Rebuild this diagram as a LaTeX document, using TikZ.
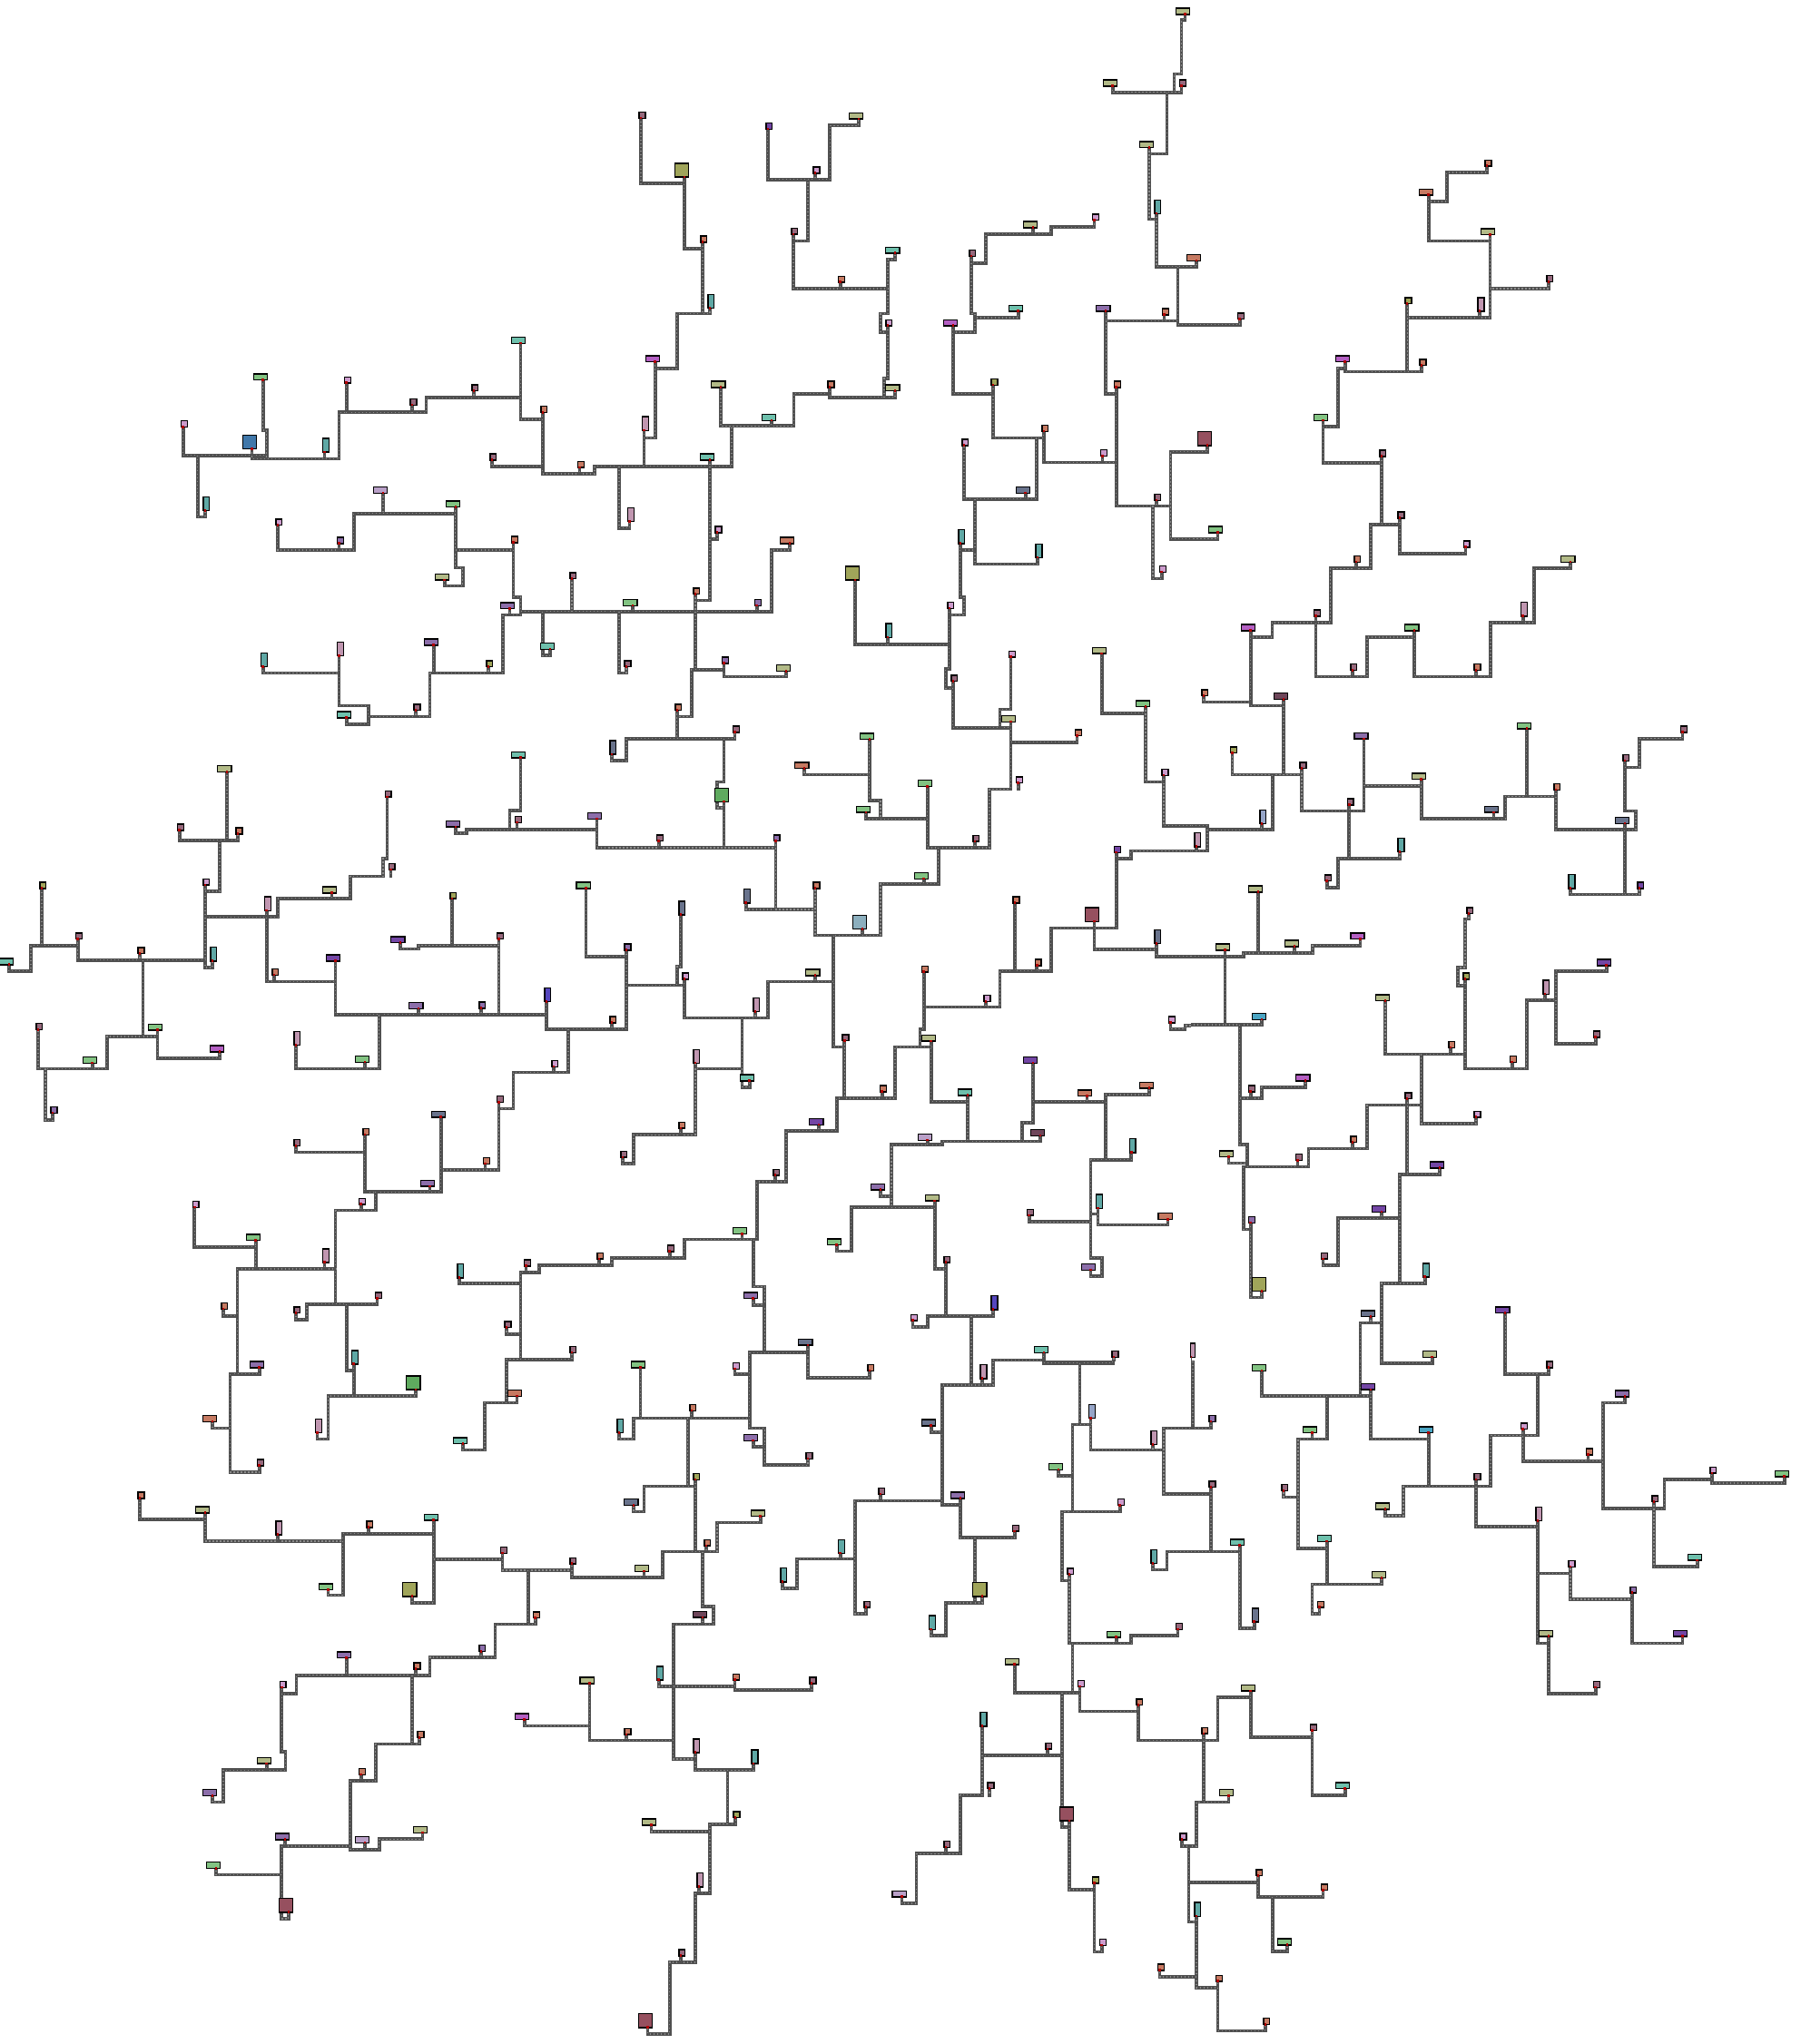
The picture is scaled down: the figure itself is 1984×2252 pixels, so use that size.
\documentclass[tikz,border=0pt]{standalone}
\usepackage{tikz}

\definecolor{trk}{RGB}{80,80,80}
\definecolor{trkin}{RGB}{140,140,140}
\definecolor{cpk}{RGB}{204,155,204}
\definecolor{cpt}{RGB}{192,150,176}
\definecolor{cmv}{RGB}{150,105,125}
\definecolor{cor}{RGB}{198,122,98}
\definecolor{col}{RGB}{178,186,135}
\definecolor{colb}{RGB}{160,165,90}
\definecolor{cgn}{RGB}{130,195,130}
\definecolor{cgnb}{RGB}{95,170,95}
\definecolor{ctl}{RGB}{95,168,165}
\definecolor{ctw}{RGB}{110,192,172}
\definecolor{cpu}{RGB}{140,110,170}
\definecolor{cpd}{RGB}{115,70,165}
\definecolor{cmg}{RGB}{180,95,195}
\definecolor{csl}{RGB}{105,115,140}
\definecolor{cbl}{RGB}{65,120,170}
\definecolor{clb}{RGB}{140,175,190}
\definecolor{ccy}{RGB}{75,165,195}
\definecolor{cmvb}{RGB}{150,80,95}
\definecolor{clp}{RGB}{185,160,200}
\definecolor{cdm}{RGB}{110,70,90}
\definecolor{cin}{RGB}{85,70,190}
\definecolor{clbt}{RGB}{150,165,200}

\tikzset{
  track/.style={draw=trk, line width=0.36mm, line join=miter, line cap=rect,
    postaction={draw=trkin, line width=0.12mm, line cap=butt, dash pattern=on 0.12mm off 0.28mm}},
  box/.style={draw=black, line width=0.4pt, inner sep=0pt, anchor=south east, xshift=0.55mm, yshift=-0.1mm},
  sq/.style={minimum width=0.68mm, minimum height=0.68mm},
  wd/.style={minimum width=1.52mm, minimum height=0.68mm},
  tl/.style={minimum width=0.68mm, minimum height=1.52mm},
  bg/.style={minimum width=1.52mm, minimum height=1.52mm},
  pin/.style={fill=red!70!black, inner sep=0pt, minimum size=0.26mm},
}

% leaf lists are name/shape/colour/x/y
\newcommand{\putpins}[1]{\foreach \n/\s/\cl/\px/\py in #1 {\coordinate (\n) at (\px,\py);}}
\newcommand{\putboxes}[1]{\foreach \n/\s/\cl/\px/\py in #1 {\node[box,\s,fill=\cl] (\n-b) at (\n) {}; \node[pin] (\n-p) at (\n) {};}}

\begin{document}
\begin{tikzpicture}[x=0.1mm, y=-0.1mm]
\fill[white] (0,0) rectangle (1984,2252);
\useasboundingbox (0,0) rectangle (1984,2252);

% ---------- top left
\def\leavesA{a1/sq/cpk/452/970, a2/wd/cgn/649/863, a3/bg/cbl/622/1020, a4/tl/ctl/506/1160,
  a5/tl/ctl/801/1027, a6/sq/cpk/855/870, a7/sq/cmv/1017/920, a8/sq/cmv/1169/888,
  a9/wd/ctw/1285/780, a10/sq/cor/1339/937, a11/sq/cmv/1214/1045, a12/sq/cor/1430/1062,
  a13/tl/cpt/1553/1185, a14/wd/clp/945/1120, a15/wd/cgn/1124/1152, a16/wd/col/1097/1318,
  a17/sq/cpk/685/1193, a18/sq/cpu/837/1235, a19/sq/cor/1267/1233, a20/wd/cpu/1258/1383,
  a21/sq/cmv/1411/1315, a22/wd/cgn/1563/1376, a23/wd/ctw/1357/1475, a24/sq/cmv/1545/1515,
  a25/sq/colb/1205/1515, a26/wd/cpu/1070/1466, a27/tl/cpt/837/1490, a28/tl/ctl/649/1515}
\begin{scope}[shift={(0,0)}, x=0.04464mm, y=-0.04847mm]
  \clip (-10,-10) rectangle (1501,1553.5);
  \putpins{\leavesA}
  \draw[track] (a1) -- (452,1035) -- (658,1035);
  \draw[track] (a2) -- (649,978) -- (658,978) -- (658,1043);
  \draw[track] (a3) -- (622,1043) -- (837,1043) -- (837,937) -- (1052,937) -- (1052,904) -- (1285,904);
  \draw[track] (488,1035) -- (488,1175) -- (506,1175) -- (a4);
  \draw[track] (a5) -- (801,1043);
  \draw[track] (a6) -- (855,937);
  \draw[track] (a7) -- (1017,937);
  \draw[track] (a8) -- (1169,904);
  \draw[track] (a9) -- (1285,953) -- (1339,953);
  \draw[track] (a10) -- (1339,1077) -- (1467,1077) -- (1467,1060) -- (1568,1060);
  \draw[track] (a11) -- (1214,1060) -- (1339,1060);
  \draw[track] (a12) -- (1430,1077);
  \draw[track] (1527,1060) -- (1527,1200) -- (1553,1200) -- (a13);
  \draw[track] (a14) -- (945,1167);
  \draw[track] (873,1167) -- (1124,1167);
  \draw[track] (a15) -- (1124,1290) -- (1142,1290) -- (1142,1332) -- (1097,1332) -- (a16);
  \draw[track] (873,1167) -- (873,1250) -- (685,1250) -- (a17);
  \draw[track] (a18) -- (837,1250);
  \draw[track] (1124,1250) -- (1267,1250);
  \draw[track] (a19) -- (1267,1357) -- (1285,1357) -- (1285,1398) -- (1241,1398) -- (1241,1530) -- (1061,1530) -- (1061,1568);
  \draw[track] (a20) -- (1258,1398);
  \draw[track] (1285,1390) -- (1568,1390);
  \draw[track] (a21) -- (1411,1390);
  \draw[track] (a22) -- (1563,1390);
  \draw[track] (1339,1390) -- (1339,1490) -- (1357,1490) -- (a23);
  \draw[track] (1527,1390) -- (1527,1530) -- (1545,1530) -- (a24);
  \draw[track] (a25) -- (1205,1530);
  \draw[track] (a26) -- (1070,1530);
  \draw[track] (a27) -- (837,1568);
  \draw[track] (a28) -- (649,1530) -- (837,1530);
  \putboxes{\leavesA}
\end{scope}

% ---------- top middle
\def\leavesB{b1/wd/col/1491/32, b2/wd/col/1312/195, b3/sq/cmv/1482/195, b4/wd/col/1402/335,
  b5/tl/ctl/1420/485, b6/wd/cor/1518/592, b7/wd/cpu/1295/707, b8/sq/cor/1439/715,
  b9/sq/cor/1321/880, b10/sq/cpk/1287/1036, b11/sq/cor/1142/980, b12/sq/colb/1017/875,
  b13/sq/cpk/945/1012, b14/wd/csl/1097/1120, b15/tl/ctl/1127/1267, b16/tl/ctl/936/1235,
  b17/sq/cpk/909/1382, b18/bg/colb/676/1318, b19/tl/ctl/757/1448, b20/sq/cmv/918/1548,
  b21/sq/cpk/1061/1493, b22/wd/col/1285/1485, b23/bg/cmvb/1545/1012, b24/sq/cmv/1420/1137,
  b25/sq/cpk/1433/1300, b26/sq/cmv/148/268, b27/bg/colb/255/402, b28/sq/cor/300/550,
  b29/tl/ctl/318/700, b30/wd/cmg/183/822, b31/tl/cpt/156/978, b32/wd/ctw/318/1045,
  b33/wd/col/345/880, b34/wd/ctw/470/955, b35/sq/cor/614/880, b36/wd/col/775/888,
  b37/sq/cpk/757/740, b38/wd/ctw/775/575, b39/sq/cor/640/641, b40/sq/cmv/524/532,
  b41/sq/cpd/461/293, b42/sq/cpk/578/393, b43/wd/col/685/270, b44/sq/cpk/336/1210,
  b45/sq/cor/282/1350, b46/wd/cor/515/1235, b47/sq/cpu/434/1376, b48/wd/cgn/128/1376,
  b49/sq/cmv/112/1515, b50/sq/cpu/353/1507, b51/wd/col/506/1525, b52/tl/cpt/120/1185,
  b53/sq/cpk/1267/500, b54/wd/col/1115/517, b55/sq/cmv/963/582, b56/wd/ctw/1079/707,
  b57/wd/cmg/918/740}
\begin{scope}[shift={(640,0)}, x=0.04464mm, y=-0.04847mm]
  \clip (67.2,-10) rectangle (1505.4,1553.5);
  \putpins{\leavesB}
  \draw[track] (b1) -- (1491,45) -- (1482,45) -- (1482,168) -- (1464,168) -- (1464,210);
  \draw[track] (b2) -- (1312,210) -- (1482,210) -- (b3);
  \draw[track] (1446,210) -- (1446,350) -- (1402,350);
  \draw[track] (b4) -- (1402,498) -- (1420,498) -- (1420,606) -- (1518,606) -- (b6);
  \draw[track] (b5) -- (1420,498);
  \draw[track] (1473,606) -- (1473,738) -- (1568,738);
  \draw[track] (b7) -- (1295,729) -- (1473,729);
  \draw[track] (b8) -- (1439,729);
  \draw[track] (1295,729) -- (1295,895) -- (1321,895);
  \draw[track] (b9) -- (1321,1150) -- (1455,1150);
  \draw[track] (1142,1051) -- (1321,1051);
  \draw[track] (b10) -- (1287,1051);
  \draw[track] (b11) -- (1142,1051);
  \draw[track] (b12) -- (1017,995) -- (1142,995);
  \draw[track] (1124,995) -- (1124,1134) -- (945,1134) -- (b13);
  \draw[track] (b14) -- (1097,1134);
  \draw[track] (972,1134) -- (972,1282) -- (1127,1282) -- (b15);
  \draw[track] (b16) -- (936,1250) -- (972,1250);
  \draw[track] (936,1250) -- (936,1357) -- (945,1357) -- (945,1398) -- (909,1398) -- (909,1520) -- (900,1520) -- (900,1568);
  \draw[track] (b17) -- (909,1398);
  \draw[track] (b18) -- (676,1465) -- (909,1465);
  \draw[track] (b19) -- (757,1465);
  \draw[track] (b20) -- (918,1568);
  \draw[track] (b21) -- (1061,1568);
  \draw[track] (b22) -- (1285,1568);
  \draw[track] (b23) -- (1545,1027) -- (1455,1027) -- (1455,1225) -- (1568,1225);
  \draw[track] (b24) -- (1420,1150);
  \draw[track] (1411,1150) -- (1411,1315) -- (1433,1315) -- (b25);
  \draw[track] (b26) -- (148,417) -- (255,417);
  \draw[track] (b27) -- (255,565) -- (300,565);
  \draw[track] (b28) -- (300,713) -- (237,713) -- (237,838) -- (183,838);
  \draw[track] (b29) -- (318,713) -- (300,713);
  \draw[track] (b30) -- (183,995) -- (156,995);
  \draw[track] (b31) -- (156,1060);
  \draw[track] (0,1077) -- (30,1077) -- (30,1060) -- (372,1060) -- (372,968);
  \draw[track] (b32) -- (318,1060);
  \draw[track] (b33) -- (345,968) -- (525,968) -- (525,895) -- (614,895);
  \draw[track] (b34) -- (470,968);
  \draw[track] (b35) -- (614,903) -- (775,903) -- (b36);
  \draw[track] (748,903) -- (748,860) -- (757,860) -- (757,755) -- (739,755) -- (739,713) -- (757,713) -- (757,590) -- (775,590) -- (b38);
  \draw[track] (b37) -- (757,755);
  \draw[track] (524,656) -- (757,656);
  \draw[track] (b39) -- (640,656);
  \draw[track] (524,656) -- (524,548) -- (560,548) -- (560,408);
  \draw[track] (b40) -- (524,548);
  \draw[track] (b41) -- (461,408) -- (614,408) -- (614,285) -- (685,285) -- (b43);
  \draw[track] (b42) -- (578,408);
  \draw[track] (318,1060) -- (318,1225) -- (336,1225) -- (b44);
  \draw[track] (318,1225) -- (318,1365) -- (282,1365);
  \draw[track] (b45) -- (282,1390);
  \draw[track] (0,1390) -- (470,1390) -- (470,1250) -- (515,1250) -- (b46);
  \draw[track] (b47) -- (434,1390);
  \draw[track] (b48) -- (128,1390);
  \draw[track] (94,1390) -- (94,1530) -- (112,1530) -- (b49);
  \draw[track] (282,1390) -- (282,1522) -- (273,1522) -- (273,1568);
  \draw[track] (282,1522) -- (353,1522) -- (353,1538) -- (506,1538) -- (b51);
  \draw[track] (b50) -- (353,1522);
  \draw[track] (94,1060) -- (94,1200) -- (120,1200) -- (b52);
  \draw[track] (b53) -- (1267,516) -- (1160,516) -- (1160,532) -- (999,532) -- (999,598) -- (963,598);
  \draw[track] (b54) -- (1115,532);
  \draw[track] (b55) -- (963,713) -- (972,713) -- (972,755) -- (918,755);
  \draw[track] (b56) -- (1079,722) -- (972,722);
  \draw[track] (b57) -- (918,895) -- (1017,895);
  \putboxes{\leavesB}
\end{scope}

% ---------- top right
\def\leavesC{c1/sq/cor/793/377, c2/wd/cor/649/443, c3/wd/col/801/533, c4/sq/cmv/945/640,
  c5/tl/cpt/775/707, c6/sq/colb/596/690, c7/sq/cor/632/830, c8/wd/cmg/443/822,
  c9/wd/cgn/389/955, c10/sq/cmv/533/1037, c11/sq/cmv/578/1177, c12/sq/cpk/740/1243,
  c13/sq/cor/470/1277, c14/sq/cmv/371/1400, c15/wd/cgn/614/1433, c16/sq/cmv/461/1523,
  c17/sq/cor/766/1523, c18/tl/cpt/882/1400, c19/wd/col/999/1277, c20/wd/cmg/210/1433,
  c21/bg/cmvb/103/1012, c22/wd/cgn/129/1210, c23/wd/cor/76/592, c24/sq/cmv/183/725}
\begin{scope}[shift={(1284,0)}, x=0.04464mm, y=-0.04847mm]
  \clip (62.7,-10) rectangle (1600,1553.5);
  \putpins{\leavesC}
  \draw[track] (c23) -- (76,606) -- (0,606);
  \draw[track] (31,606) -- (31,738) -- (183,738) -- (c24);
  \draw[track] (0,738) -- (31,738);
  \draw[track] (c1) -- (793,392) -- (694,392) -- (694,458) -- (649,458);
  \draw[track] (c2) -- (649,548) -- (801,548);
  \draw[track] (c3) -- (801,722) -- (596,722);
  \draw[track] (c4) -- (945,656) -- (801,656);
  \draw[track] (c5) -- (775,722);
  \draw[track] (c6) -- (596,845);
  \draw[track] (c8) -- (443,845) -- (632,845);
  \draw[track] (c7) -- (632,845);
  \draw[track] (443,837) -- (425,837) -- (425,970) -- (389,970);
  \draw[track] (c9) -- (389,1052) -- (533,1052);
  \draw[track] (c10) -- (533,1192) -- (506,1192) -- (506,1292) -- (407,1292) -- (407,1415) -- (263,1415) -- (263,1448) -- (210,1448);
  \draw[track] (c11) -- (578,1258) -- (740,1258) -- (c12);
  \draw[track] (533,1192) -- (578,1192);
  \draw[track] (c13) -- (470,1292);
  \draw[track] (c14) -- (371,1538) -- (497,1538) -- (497,1448) -- (614,1448);
  \draw[track] (c15) -- (614,1538) -- (802,1538) -- (802,1415) -- (909,1415) -- (909,1292) -- (999,1292) -- (c19);
  \draw[track] (c16) -- (461,1538);
  \draw[track] (c17) -- (766,1538);
  \draw[track] (c18) -- (882,1415);
  \draw[track] (c20) -- (210,1568);
  \draw[track] (c21) -- (103,1027) -- (13,1027) -- (13,1225) -- (129,1225) -- (c22);
  \draw[track] (0,1150) -- (13,1150);
  \putboxes{\leavesC}
\end{scope}

% ---------- middle left
\def\leavesD{d1/wd/ctw/855/92, d2/sq/cmv/1026/75, d3/tl/csl/1509/175, d4/wd/ctw/1285/183,
  d5/wd/cpu/1124/340, d6/sq/cmv/1276/330, d7/wd/cpu/1473/322, d8/sq/cmv/955/272,
  d9/sq/cmv/964/437, d10/wd/col/819/490, d11/tl/cpt/658/530, d12/sq/cor/676/677,
  d13/wd/cpd/828/645, d14/wd/cpu/1033/753, d15/sq/cpu/1187/752, d16/sq/cmv/1231/595,
  d17/wd/cpd/988/603, d18/sq/colb/1115/503, d19/tl/cin/1348/737, d20/sq/cor/1510/785,
  d21/wd/cgn/1446/480, d22/sq/cpu/1545/620, d23/sq/cpk/1366/885, d24/sq/cmv/1231/966,
  d25/sq/cor/1197/1106, d26/wd/csl/1088/1000, d27/wd/cpu/1061/1157, d28/sq/cor/900/1040,
  d29/sq/cmv/730/1065, d30/sq/cpk/891/1198, d31/tl/cpt/801/1330, d32/wd/cgn/631/1280,
  d33/sq/cpk/480/1205, d34/sq/cor/551/1436, d35/sq/cmv/931/1412, d36/sq/cmv/730/1445,
  d37/sq/cpk/506/472, d38/tl/ctl/524/645, d39/sq/cmv/443/348, d40/sq/cor/587/356,
  d41/wd/col/560/215, d42/sq/cor/345/628, d43/sq/cmv/192/595, d44/sq/colb/103/480,
  d45/wd/ctw/22/653, d46/sq/cmv/94/801, d47/wd/cgn/228/877, d48/wd/cgn/389/802,
  d49/wd/cmg/542/851, d50/sq/cpu/130/990, d51/tl/cpt/730/836, d52/wd/cgn/900/875,
  d54/sq/cor/1478/1322, d55/sq/cmv/1298/1338, d56/tl/ctl/1133/1365, d57/sq/cmv/1411/1535,
  d58/sq/cmv/1250/1478, d60/tl/ctl/873/1561}
\begin{scope}[shift={(0,746)}, x=0.04464mm, y=-0.04847mm]
  \clip (-10,14.4) rectangle (1501,1553.5);
  \putpins{\leavesD}
  \draw[track] (837,0) -- (837,65) -- (909,65) -- (909,107) -- (855,107) -- (d1);
  \draw[track] (909,90) -- (1061,90) -- (1061,0);
  \draw[track] (d2) -- (1026,90);
  \draw[track] (d3) -- (1509,190) -- (1545,190) -- (1545,140) -- (1568,140);
  \draw[track] (d4) -- (1285,303) -- (1258,303) -- (1258,347);
  \draw[track] (d5) -- (1124,355) -- (1151,355) -- (1151,347) -- (1473,347);
  \draw[track] (d6) -- (1276,347);
  \draw[track] (d7) -- (1473,388) -- (1568,388);
  \draw[track] (d8) -- (955,412) -- (945,412) -- (945,453) -- (864,453) -- (864,503) -- (686,503) -- (686,545) -- (506,545);
  \draw[track] (d9) -- (964,453);
  \draw[track] (d10) -- (819,503);
  \draw[track] (d11) -- (658,692) -- (828,692);
  \draw[track] (d12) -- (676,692);
  \draw[track] (d13) -- (828,767) -- (1348,767);
  \draw[track] (d14) -- (1033,767);
  \draw[track] (d15) -- (1187,767);
  \draw[track] (d16) -- (1231,767);
  \draw[track] (1231,610) -- (1033,610) -- (1033,618) -- (988,618) -- (d17);
  \draw[track] (d18) -- (1115,610);
  \draw[track] (d19) -- (1348,800) -- (1545,800);
  \draw[track] (d20) -- (1510,800);
  \draw[track] (d21) -- (1446,635) -- (1545,635);
  \draw[track] (d22) -- (1545,800);
  \draw[track] (1545,700) -- (1568,700);
  \draw[track] (1402,800) -- (1402,898) -- (1267,898) -- (1267,981) -- (1231,981) -- (1231,1120) -- (1088,1120);
  \draw[track] (d23) -- (1366,898);
  \draw[track] (d24) -- (1231,981);
  \draw[track] (d25) -- (1197,1120);
  \draw[track] (d26) -- (1088,1170) -- (900,1170);
  \draw[track] (d27) -- (1061,1170);
  \draw[track] (d28) -- (900,1170);
  \draw[track] (d29) -- (730,1080) -- (900,1080);
  \draw[track] (927,1170) -- (927,1212) -- (828,1212) -- (828,1425);
  \draw[track] (d30) -- (891,1212);
  \draw[track] (586,1345) -- (828,1345);
  \draw[track] (d31) -- (801,1345);
  \draw[track] (d32) -- (631,1345);
  \draw[track] (631,1295) -- (480,1295) -- (d33);
  \draw[track] (586,1345) -- (586,1568);
  \draw[track] (d34) -- (551,1452) -- (586,1452);
  \draw[track] (757,1425) -- (931,1425) -- (d35);
  \draw[track] (757,1425) -- (757,1460) -- (730,1460) -- (d36);
  \draw[track] (855,1425) -- (855,1568);
  \draw[track] (d37) -- (506,660) -- (524,660) -- (d38);
  \draw[track] (506,487) -- (542,487) -- (542,371);
  \draw[track] (d39) -- (443,371) -- (587,371) -- (d40);
  \draw[track] (d41) -- (560,371);
  \draw[track] (192,643) -- (506,643);
  \draw[track] (d42) -- (345,643);
  \draw[track] (d43) -- (192,643);
  \draw[track] (192,610) -- (76,610) -- (76,668) -- (22,668) -- (d45);
  \draw[track] (d44) -- (103,610);
  \draw[track] (353,643) -- (353,817) -- (264,817) -- (264,890) -- (94,890) -- (d46);
  \draw[track] (d47) -- (228,890);
  \draw[track] (353,817) -- (389,817) -- (389,866) -- (542,866) -- (d49);
  \draw[track] (d48) -- (389,817);
  \draw[track] (112,890) -- (112,1007) -- (130,1007) -- (d50);
  \draw[track] (d51) -- (730,890) -- (936,890) -- (936,767);
  \draw[track] (d52) -- (900,890);
  \draw[track] (1568,1320) -- (1509,1320) -- (1509,1337) -- (1330,1337) -- (1330,1353) -- (1285,1353);
  \draw[track] (d54) -- (1478,1337);
  \draw[track] (d55) -- (1298,1353);
  \draw[track] (d56) -- (1133,1378) -- (1285,1378);
  \draw[track] (1285,1353) -- (1285,1550) -- (1411,1550) -- (d57);
  \draw[track] (1250,1568) -- (1250,1550) -- (1285,1550);
  \draw[track] (d58) -- (1250,1493) -- (1285,1493);
  \putboxes{\leavesD}
\end{scope}

% ---------- centre
\def\leavesE{e1/sq/cor/237/75, e2/sq/cmv/380/125, e3/tl/csl/76/175, e4/bg/cgnb/353/283,
  e5/sq/cmv/192/372, e6/sq/cpu/480/372, e8/wd/cgn/712/141, e9/wd/cgn/703/307,
  e10/wd/cor/551/207, e11/wd/cgn/855/248, e12/sq/cmv/972/373, e13/sq/cpk/1079/240,
  e14/wd/col/1061/101, e16/sq/cor/1224/133, e17/wd/cgn/1393/67, e18/sq/cpk/1438/223,
  e20/sq/cpd/1321/398, e22/bg/cmvb/1267/555, e23/tl/csl/1420/605, e24/sq/cor/1071/513,
  e25/sq/cor/1125/655, e26/sq/cpk/999/737, e27/sq/cor/846/670, e28/wd/col/864/827,
  e29/sq/cor/743/942, e30/wd/cpd/587/1017, e31/sq/cmv/479/1132, e32/wd/cgn/398/1265,
  e33/sq/cmv/219/1305, e35/wd/cpu/425/1412, e36/wd/csl/560/1518, e37/bg/clb/694/572,
  e38/sq/cor/578/480, e39/wd/cgn/846/458, e40/sq/cmv/650/826, e41/wd/col/578/678,
  e42/tl/cpt/430/760, e43/sq/cpk/255/686, e44/tl/csl/246/540, e46/sq/cpu/112/620,
  e47/sq/cor/76/785, e48/tl/cpt/282/877, e49/wd/ctw/416/917, e50/sq/cor/246/1025,
  e51/sq/cmv/103/1091, e52/wd/cpd/1115/877, e53/wd/ctw/954/950, e54/wd/cdm/1133/1042,
  e55/wd/clp/855/1052, e56/wd/cor/1402/934, e57/wd/cor/1249/952, e58/tl/ctl/1358/1080,
  e59/wd/cpu/1258/1347, e60/sq/cmv/1106/1223, e61/tl/ctl/1276/1207, e62/wd/cor/1448/1232,
  e63/wd/cpu/739/1165, e64/wd/cgn/631/1290, e65/wd/col/873/1190, e66/sq/cmv/900/1330,
  e67/tl/cin/1017/1437, e68/sq/cpk/819/1462, e69/wd/ctw/1142/1535, e70/sq/cmv/1315/1545,
  e71/sq/cpk/1455/785, e73/tl/csl/407/513, e74/tl/cpt/1509/1545}
\begin{scope}[shift={(640,746)}, x=0.04464mm, y=-0.04847mm]
  \clip (67.2,14.4) rectangle (1505.4,1553.5);
  \putpins{\leavesE}
  \draw[track] (273,0) -- (273,90) -- (237,90);
  \draw[track] (e1) -- (237,140);
  \draw[track] (112,140) -- (380,140) -- (e2);
  \draw[track] (112,140) -- (112,190) -- (76,190) -- (e3);
  \draw[track] (353,140) -- (353,238) -- (336,238) -- (336,297) -- (353,297) -- (353,388);
  \draw[track] (e4) -- (353,297);
  \draw[track] (0,347) -- (40,347);
  \draw[track] (40,323) -- (40,388) -- (480,388);
  \draw[track] (e5) -- (192,388);
  \draw[track] (e6) -- (480,528) -- (407,528) -- (e73);
  \draw[track] (480,528) -- (578,528);
  \draw[track] (e8) -- (712,280) -- (739,280) -- (739,322) -- (703,322) -- (e9);
  \draw[track] (e10) -- (551,222) -- (712,222);
  \draw[track] (739,322) -- (855,322);
  \draw[track] (e11) -- (855,388) -- (1008,388) -- (1008,255) -- (1061,255);
  \draw[track] (e12) -- (972,388);
  \draw[track] (e13) -- (1079,255);
  \draw[track] (900,0) -- (900,25) -- (918,25);
  \draw[track] (918,8) -- (918,115) -- (1061,115);
  \draw[track] (1061,0) -- (1061,73) -- (1034,73) -- (1034,115);
  \draw[track] (e14) -- (1061,255);
  \draw[track] (1061,148) -- (1224,148) -- (e16);
  \draw[track] (1285,0) -- (1285,82) -- (1393,82);
  \draw[track] (e17) -- (1393,238) -- (1438,238) -- (1438,338) -- (1545,338) -- (1545,395) -- (1357,395) -- (1357,412) -- (1321,412) -- (1321,570) -- (1160,570) -- (1160,668) -- (1034,668) -- (1034,750) -- (846,750);
  \draw[track] (e18) -- (1438,238);
  \draw[track] (1545,347) -- (1568,347);
  \draw[track] (1518,385) -- (1518,395);
  \draw[track] (e20) -- (1321,412);
  \draw[track] (1541,42) -- (1541,57) -- (1568,57);
  \draw[track] (e22) -- (1267,619) -- (1420,619) -- (1420,635) -- (1568,635);
  \draw[track] (e23) -- (1420,619);
  \draw[track] (1267,570) -- (1321,570);
  \draw[track] (e24) -- (1071,668);
  \draw[track] (e25) -- (1125,668);
  \draw[track] (e26) -- (999,750);
  \draw[track] (e27) -- (846,800) -- (837,800) -- (837,841) -- (775,841) -- (775,957) -- (631,957) -- (631,1031) -- (506,1031) -- (506,1147) -- (434,1147) -- (434,1278) -- (255,1278) -- (255,1320) -- (76,1320) -- (76,1337) -- (0,1337);
  \draw[track] (e28) -- (864,965) -- (954,965) -- (954,1055);
  \draw[track] (837,841) -- (864,841);
  \draw[track] (e29) -- (743,957);
  \draw[track] (e30) -- (587,1031);
  \draw[track] (e31) -- (479,1147);
  \draw[track] (e32) -- (398,1278);
  \draw[track] (e33) -- (219,1320);
  \draw[track] (426,1278) -- (426,1385) -- (453,1385) -- (453,1535) -- (416,1535) -- (416,1568);
  \draw[track] (e35) -- (425,1427) -- (453,1427);
  \draw[track] (e36) -- (560,1568);
  \draw[track] (453,1535) -- (560,1535);
  \draw[track] (e37) -- (694,587) -- (578,587) -- (e38);
  \draw[track] (694,587) -- (739,587) -- (739,470) -- (882,470) -- (882,388);
  \draw[track] (e39) -- (846,470);
  \draw[track] (623,587) -- (623,841) -- (650,841);
  \draw[track] (e40) -- (650,957);
  \draw[track] (623,692) -- (461,692) -- (461,775) -- (255,775) -- (255,700) -- (112,700);
  \draw[track] (e41) -- (578,692);
  \draw[track] (e42) -- (430,775);
  \draw[track] (e43) -- (255,700);
  \draw[track] (237,700) -- (237,658) -- (246,658) -- (e44);
  \draw[track] (112,635) -- (112,800) -- (0,800);
  \draw[track] (13,480) -- (13,635) -- (112,635);
  \draw[track] (e46) -- (112,635);
  \draw[track] (e47) -- (76,800);
  \draw[track] (398,775) -- (398,890) -- (282,890) -- (e48);
  \draw[track] (398,890) -- (398,932) -- (416,932) -- (e49);
  \draw[track] (282,890) -- (282,1040) -- (130,1040) -- (130,1106) -- (103,1106) -- (e51);
  \draw[track] (e50) -- (246,1040);
  \draw[track] (e52) -- (1115,1013) -- (1088,1013) -- (1088,1055) -- (891,1055) -- (891,1063) -- (766,1063) -- (766,1205);
  \draw[track] (e53) -- (954,1055);
  \draw[track] (e54) -- (1133,1055) -- (1088,1055);
  \draw[track] (e55) -- (855,1063);
  \draw[track] (1115,965) -- (1295,965) -- (1295,949) -- (1402,949) -- (e56);
  \draw[track] (e57) -- (1249,965);
  \draw[track] (1295,965) -- (1295,1097) -- (1258,1097) -- (1258,1320) -- (1285,1320) -- (1285,1362) -- (1258,1362) -- (e59);
  \draw[track] (1295,1097) -- (1358,1097) -- (e58);
  \draw[track] (1258,1238) -- (1106,1238) -- (e60);
  \draw[track] (1258,1220) -- (1276,1220) -- (e61);
  \draw[track] (1276,1220) -- (1276,1245) -- (1448,1245) -- (e62);
  \draw[track] (e63) -- (739,1180) -- (766,1180);
  \draw[track] (766,1205) -- (667,1205) -- (667,1305) -- (631,1305) -- (e64);
  \draw[track] (766,1205) -- (873,1205);
  \draw[track] (e65) -- (873,1345) -- (900,1345);
  \draw[track] (e66) -- (900,1452);
  \draw[track] (855,1452) -- (1017,1452) -- (e67);
  \draw[track] (855,1452) -- (855,1477) -- (819,1477) -- (e68);
  \draw[track] (963,1452) -- (963,1568);
  \draw[track] (e69) -- (1142,1558) -- (1315,1558) -- (e70);
  \draw[track] (1017,1568) -- (1017,1552) -- (1142,1552);
  \draw[track] (e74) -- (1509,1568);
  \draw[track] (e71) -- (1455,800) -- (1491,800) -- (1491,792) -- (1568,792);
  \putboxes{\leavesE}
\end{scope}

% ---------- middle right
\def\leavesF{f1/sq/cor/94/42, f2/wd/cdm/291/50, f3/sq/colb/165/172, f4/sq/cmv/336/207,
  f5/tl/clbt/237/333, f6/tl/cpt/76/385, f7/wd/cpu/489/140, f8/sq/cmv/453/290,
  f9/tl/ctl/578/397, f10/sq/cmv/398/463, f11/wd/col/631/232, f12/wd/csl/810/307,
  f13/wd/cgn/891/117, f14/sq/cor/963/256, f15/sq/cmv/1276/125, f16/sq/cmv/1133/190,
  f17/wd/csl/1133/332, f18/tl/ctl/999/480, f19/sq/cpd/1169/480, f20/wd/col/228/488,
  f21/wd/col/147/620, f23/wd/col/318/612, f24/wd/cmg/480/595, f25/wd/ccy/237/778,
  f26/wd/cmg/345/917, f27/sq/cmv/210/942, f28/wd/col/156/1090, f29/sq/cmv/326/1098,
  f30/sq/cor/461/1057, f31/sq/cpu/210/1240, f32/bg/colb/237/1395, f33/sq/cmv/748/537,
  f34/sq/colb/739/686, f35/wd/col/542/735, f36/sq/cor/703/842, f37/sq/cor/855/875,
  f38/tl/cpt/936/720, f39/wd/cpd/1088/655, f40/sq/cmv/1061/818, f41/sq/cpk/766/1000,
  f42/sq/cmv/596/958, f43/wd/cpd/676/1115, f44/sq/cmv/389/1322, f45/wd/cpd/533/1215,
  f46/wd/col/658/1545, f47/tl/ctl/640/1363, f48/wd/csl/506/1453, f49/wd/cpd/838/1445,
  f50/tl/cpt/62/1545}
\begin{scope}[shift={(1284,746)}, x=0.04464mm, y=-0.04847mm]
  \clip (62.7,14.4) rectangle (1600,1553.5);
  \putpins{\leavesF}
  \draw[track] (210,0) -- (210,65) -- (291,65);
  \draw[track] (f1) -- (94,57) -- (210,57);
  \draw[track] (f2) -- (291,222);
  \draw[track] (f3) -- (165,222) -- (336,222);
  \draw[track] (f4) -- (336,304) -- (489,304);
  \draw[track] (264,222) -- (264,347) -- (103,347) -- (103,395) -- (0,395);
  \draw[track] (f5) -- (237,347);
  \draw[track] (103,338) -- (0,338);
  \draw[track] (f6) -- (76,395);
  \draw[track] (f7) -- (489,304);
  \draw[track] (f8) -- (453,412) -- (578,412) -- (f9);
  \draw[track] (453,412) -- (426,412) -- (426,478) -- (398,478) -- (f10);
  \draw[track] (489,247) -- (631,247);
  \draw[track] (f11) -- (631,322) -- (838,322) -- (838,271) -- (963,271);
  \draw[track] (f12) -- (810,322);
  \draw[track] (f13) -- (891,271);
  \draw[track] (f14) -- (963,347) -- (1160,347) -- (1160,304) -- (1133,304);
  \draw[track] (f16) -- (1133,304);
  \draw[track] (1133,205) -- (1169,205) -- (1169,140) -- (1276,140) -- (f15);
  \draw[track] (f17) -- (1133,494) -- (999,494) -- (f18);
  \draw[track] (1133,494) -- (1169,494) -- (f19);
  \draw[track] (f20) -- (228,627) -- (192,627) -- (192,635) -- (0,635);
  \draw[track] (f21) -- (147,790) -- (48,790) -- (48,800) -- (13,800) -- (13,785);
  \draw[track] (228,627) -- (363,627) -- (363,610) -- (480,610) -- (f24);
  \draw[track] (f23) -- (318,627);
  \draw[track] (147,790) -- (237,790) -- (f25);
  \draw[track] (183,790) -- (183,1063) -- (201,1063) -- (201,1113);
  \draw[track] (183,957) -- (237,957) -- (237,932) -- (345,932) -- (f26);
  \draw[track] (f27) -- (210,957);
  \draw[track] (f28) -- (156,1105) -- (201,1105);
  \draw[track] (192,1113) -- (353,1113) -- (353,1072) -- (497,1072) -- (497,973) -- (631,973);
  \draw[track] (f29) -- (326,1113);
  \draw[track] (f30) -- (461,1072);
  \draw[track] (192,1113) -- (192,1255) -- (210,1255) -- (210,1410) -- (237,1410) -- (f32);
  \draw[track] (f31) -- (210,1255);
  \draw[track] (f33) -- (748,550) -- (739,550) -- (739,660) -- (721,660) -- (721,701) -- (739,701) -- (739,890) -- (891,890) -- (891,734) -- (963,734);
  \draw[track] (f34) -- (739,701);
  \draw[track] (f35) -- (542,857) -- (739,857);
  \draw[track] (f36) -- (703,857);
  \draw[track] (f37) -- (855,890);
  \draw[track] (f38) -- (936,734);
  \draw[track] (963,734) -- (963,668) -- (1088,668) -- (f39);
  \draw[track] (963,734) -- (963,833) -- (1061,833) -- (f40);
  \draw[track] (631,857) -- (631,1015) -- (766,1015) -- (f41);
  \draw[track] (631,973) -- (596,973);
  \draw[track] (f42) -- (596,1130);
  \draw[track] (578,1130) -- (676,1130) -- (f43);
  \draw[track] (578,1130) -- (578,1378);
  \draw[track] (578,1230) -- (426,1230) -- (426,1337) -- (389,1337) -- (f44);
  \draw[track] (f45) -- (533,1230);
  \draw[track] (578,1378) -- (533,1378) -- (533,1560) -- (658,1560) -- (f46);
  \draw[track] (578,1378) -- (640,1378) -- (f47);
  \draw[track] (533,1468) -- (480,1468) -- (480,1568);
  \draw[track] (f48) -- (506,1468);
  \draw[track] (f49) -- (838,1568);
  \draw[track] (f50) -- (62,1568);
  \putboxes{\leavesF}
\end{scope}

% ---------- bottom left
\def\leavesG{g1/wd/cpu/640/30, g2/sq/cmv/640/253, g3/wd/cor/524/153, g4/tl/ctl/873/22,
  g5/bg/cgnb/1026/80, g6/tl/cpt/783/178, g7/wd/cor/1276/95, g8/wd/ctw/1142/203,
  g9/tl/ctl/1527/178, g10/wd/csl/1563/345, g11/sq/cor/345/327, g12/wd/col/506/360,
  g13/tl/cpt/685/410, g14/wd/cgn/810/535, g15/sq/cor/909/393, g16/wd/ctw/1070/377,
  g17/bg/colb/1017/550, g18/sq/cmv/1240/452, g19/sq/cmv/1411/476, g20/sq/cor/1321/599,
  g21/sq/cpu/1187/675, g22/sq/cor/1026/715, g23/wd/cpu/855/690, g24/sq/cpk/695/757,
  g25/sq/cor/1035/871, g26/sq/cor/891/955, g27/wd/col/1043/1087, g28/wd/clp/900/1110,
  g29/wd/cpu/703/1103, g30/bg/cmvb/712/1268, g31/wd/cgn/533/1168, g32/wd/col/658/930,
  g33/wd/cpu/524/1003, g34/wd/col/1455/748, g35/wd/cmg/1294/830, g36/sq/cor/1545/864}
\begin{scope}[shift={(0,1492)}, x=0.04464mm, y=-0.04847mm]
  \clip (-10,14.4) rectangle (1501,1600);
  \putpins{\leavesG}
  \draw[track] (586,0) -- (586,45);
  \draw[track] (568,45) -- (640,45) -- (g1);
  \draw[track] (568,45) -- (568,268) -- (640,268) -- (g2);
  \draw[track] (568,168) -- (524,168) -- (g3);
  \draw[track] (855,0) -- (855,37) -- (873,37) -- (873,95);
  \draw[track] (g4) -- (873,37);
  \draw[track] (g5) -- (1026,95) -- (810,95) -- (810,193) -- (783,193) -- (g6);
  \draw[track] (1250,12) -- (1411,12);
  \draw[track] (1285,0) -- (1285,12);
  \draw[track] (1250,0) -- (1250,110) -- (1276,110) -- (g7);
  \draw[track] (1250,110) -- (1196,110) -- (1196,218) -- (1142,218) -- (g8);
  \draw[track] (g9) -- (1527,193) -- (1563,193) -- (1563,140);
  \draw[track] (g10) -- (1563,360);
  \draw[track] (g11) -- (345,375) -- (506,375);
  \draw[track] (g12) -- (506,425) -- (846,425);
  \draw[track] (g13) -- (685,425);
  \draw[track] (846,408) -- (846,548) -- (810,548) -- (g14);
  \draw[track] (846,408) -- (1070,408);
  \draw[track] (g15) -- (909,408);
  \draw[track] (g16) -- (1070,565) -- (1017,565) -- (g17);
  \draw[track] (1070,466) -- (1240,466) -- (g18);
  \draw[track] (1240,466) -- (1240,491) -- (1411,491) -- (g19);
  \draw[track] (1411,491) -- (1411,507) -- (1568,507);
  \draw[track] (1303,491) -- (1303,614) -- (1222,614) -- (1222,689) -- (1061,689) -- (1061,730) -- (731,730) -- (731,772) -- (695,772) -- (g24);
  \draw[track] (1303,614) -- (1321,614) -- (g20);
  \draw[track] (g21) -- (1187,689);
  \draw[track] (g22) -- (1026,730);
  \draw[track] (g23) -- (855,730);
  \draw[track] (1017,730) -- (1017,886) -- (1035,886) -- (g25);
  \draw[track] (1017,886) -- (927,886) -- (927,970) -- (864,970) -- (864,1126) -- (936,1126) -- (936,1102) -- (1043,1102) -- (g27);
  \draw[track] (g26) -- (891,970);
  \draw[track] (g28) -- (900,1126);
  \draw[track] (864,1118) -- (695,1118);
  \draw[track] (g29) -- (703,1118);
  \draw[track] (695,1118) -- (695,1283) -- (712,1283) -- (g30);
  \draw[track] (695,1183) -- (533,1183) -- (g31);
  \draw[track] (695,772) -- (695,903) -- (704,903) -- (704,945) -- (551,945) -- (551,1018) -- (524,1018) -- (g33);
  \draw[track] (g32) -- (658,945);
  \draw[track] (g34) -- (1455,878) -- (1568,878);
  \draw[track] (g35) -- (1294,845) -- (1455,845);
  \draw[track] (g36) -- (1545,878);
  \putboxes{\leavesG}
\end{scope}

% ---------- bottom middle
\def\leavesH{h1/wd/cgn/147/30, h2/tl/ctl/94/178, h3/sq/cor/273/128, h4/sq/cpk/380/33,
  h5/sq/cmv/560/237, h6/wd/cpu/425/196, h7/wd/csl/130/343, h8/sq/colb/282/285,
  h9/sq/cor/309/435, h10/wd/col/443/368, h11/wd/col/156/493, h12/wd/cdm/300/598,
  h13/tl/cpt/282/905, h14/tl/ctl/426/930, h15/sq/colb/381/1053, h16/wd/col/174/1070,
  h17/tl/cpt/291/1210, h18/sq/cmv/246/1367, h19/bg/cmvb/165/1530, h20/tl/ctl/192/740,
  h21/sq/cor/380/740, h22/sq/cmv/569/748, h23/wd/col/22/748, h24/sq/cor/112/864,
  h25/sq/cor/712/37, h26/tl/cpt/990/55, h27/tl/clbt/1258/145, h28/wd/cgn/1178/262,
  h29/sq/cpk/1205/500, h30/sq/cpk/1330/343, h31/wd/cgn/1321/643, h32/sq/cmv/1473/625,
  h33/wd/col/1070/705, h34/sq/cpk/1231/755, h35/sq/cor/1375/797, h36/sq/cor/1536/862,
  h37/sq/cpk/1483/1103, h38/tl/ctl/1518/1275, h39/sq/cor/1428/1400, h40/bg/cmvb/1205/1060,
  h41/sq/cmv/1151/897, h42/tl/ctl/990/845, h43/sq/cmv/1008/987, h44/sq/cmv/900/1120,
  h45/wd/clp/792/1233, h46/sq/colb/1267/1202, h47/sq/cpk/1285/1343, h48/sq/cmv/703/575,
  h49/sq/cmv/739/318, h50/wd/cpu/936/327, h51/sq/cmv/1070/402, h52/tl/ctl/864/625,
  h53/bg/colb/990/550, h54/tl/ctl/640/452, h55/tl/ctl/497/517, h56/wd/csl/864/162,
  h57/sq/cpu/1554/153, h58/tl/cpt/1411/205, h59/sq/cmv/1554/302, h60/tl/ctl/1411/475}
\begin{scope}[shift={(640,1492)}, x=0.04464mm, y=-0.04847mm]
  \clip (67.2,14.4) rectangle (1505.4,1600);
  \putpins{\leavesH}
  \draw[track] (h1) -- (147,145) -- (130,145) -- (130,193) -- (94,193) -- (h2);
  \draw[track] (147,145) -- (416,145);
  \draw[track] (h3) -- (273,145);
  \draw[track] (h4) -- (380,45) -- (416,45);
  \draw[track] (416,0) -- (416,168) -- (453,168) -- (453,252) -- (560,252) -- (h5);
  \draw[track] (h6) -- (425,210) -- (453,210);
  \draw[track] (264,145) -- (264,300) -- (156,300) -- (156,358) -- (130,358) -- (h7);
  \draw[track] (264,300) -- (282,300);
  \draw[track] (h8) -- (282,449);
  \draw[track] (201,449) -- (336,449);
  \draw[track] (201,449) -- (201,507) -- (0,507);
  \draw[track] (h11) -- (156,507);
  \draw[track] (h9) -- (309,449);
  \draw[track] (336,449) -- (336,383) -- (443,383) -- (h10);
  \draw[track] (300,449) -- (300,573) -- (327,573) -- (327,614) -- (228,614);
  \draw[track] (h12) -- (300,614);
  \draw[track] (228,614) -- (228,920) -- (282,920) -- (282,945) -- (426,945) -- (h14);
  \draw[track] (h13) -- (282,920);
  \draw[track] (362,945) -- (362,1068) -- (381,1068) -- (h15);
  \draw[track] (362,1068) -- (318,1068) -- (318,1225) -- (282,1225) -- (282,1382) -- (219,1382) -- (219,1545) -- (165,1545) -- (h19);
  \draw[track] (318,1085) -- (174,1085) -- (h16);
  \draw[track] (h17) -- (291,1225);
  \draw[track] (h18) -- (246,1382);
  \draw[track] (228,755) -- (192,755) -- (h20);
  \draw[track] (228,755) -- (380,755) -- (h21);
  \draw[track] (380,763) -- (569,763) -- (h22);
  \draw[track] (228,878) -- (22,878) -- (h23);
  \draw[track] (h24) -- (112,878);
  \draw[track] (22,845) -- (0,845);
  \draw[track] (560,0) -- (560,53) -- (712,53) -- (h25);
  \draw[track] (963,0) -- (963,70) -- (891,70) -- (891,342) -- (936,342) -- (h50);
  \draw[track] (h26) -- (990,70);
  \draw[track] (963,70) -- (1017,70) -- (1017,12) -- (1142,12) -- (1142,0);
  \draw[track] (1142,12) -- (1142,20) -- (1312,20) -- (1312,5);
  \draw[track] (1231,20) -- (1231,160) -- (1213,160);
  \draw[track] (h27) -- (1258,218) -- (1438,218);
  \draw[track] (1213,160) -- (1258,160);
  \draw[track] (1213,160) -- (1213,358);
  \draw[track] (h28) -- (1178,277) -- (1213,277);
  \draw[track] (1213,358) -- (1187,358) -- (1187,515) -- (1205,515);
  \draw[track] (h29) -- (1205,657);
  \draw[track] (1213,358) -- (1330,358) -- (h30);
  \draw[track] (1205,657) -- (1358,657) -- (1358,640) -- (1473,640) -- (h32);
  \draw[track] (h31) -- (1321,657);
  \draw[track] (1213,657) -- (1213,770);
  \draw[track] (h33) -- (1070,770) -- (1231,770);
  \draw[track] (h34) -- (1231,812) -- (1375,812) -- (1375,878) -- (1568,878);
  \draw[track] (h35) -- (1375,812);
  \draw[track] (h36) -- (1536,1018) -- (1518,1018) -- (1518,1118) -- (1500,1118) -- (1500,1290) -- (1518,1290) -- (1518,1440) -- (1568,1440);
  \draw[track] (1518,1018) -- (1568,1018);
  \draw[track] (h37) -- (1483,1118) -- (1500,1118);
  \draw[track] (1500,1200) -- (1568,1200);
  \draw[track] (h38) -- (1518,1290);
  \draw[track] (1518,1415) -- (1428,1415) -- (h39);
  \draw[track] (1187,770) -- (1187,1075) -- (1205,1075);
  \draw[track] (h40) -- (1205,1217) -- (1267,1217) -- (1267,1358) -- (1285,1358) -- (h47);
  \draw[track] (h46) -- (1267,1217);
  \draw[track] (1187,912) -- (990,912);
  \draw[track] (h41) -- (1151,912);
  \draw[track] (h42) -- (990,1002) -- (936,1002) -- (936,1135) -- (828,1135) -- (828,1248) -- (792,1248) -- (h45);
  \draw[track] (h43) -- (1008,1002);
  \draw[track] (h44) -- (900,1135);
  \draw[track] (891,333) -- (676,333) -- (676,590) -- (703,590) -- (h48);
  \draw[track] (h49) -- (739,333);
  \draw[track] (936,342) -- (936,417) -- (1070,417) -- (h51);
  \draw[track] (972,417) -- (972,565) -- (900,565) -- (900,640) -- (864,640) -- (h52);
  \draw[track] (972,565) -- (990,565) -- (h53);
  \draw[track] (676,465) -- (533,465) -- (533,532) -- (497,532) -- (h55);
  \draw[track] (h54) -- (640,465);
  \draw[track] (h56) -- (864,177) -- (891,177);
  \draw[track] (1509,0) -- (1509,168) -- (1438,168) -- (1438,318) -- (1554,318) -- (h59);
  \draw[track] (1509,168) -- (1554,168) -- (h57);
  \draw[track] (h58) -- (1411,218);
  \draw[track] (1554,318) -- (1554,449) -- (1446,449) -- (1446,490) -- (1411,490) -- (h60);
  \putboxes{\leavesH}
\end{scope}

% ---------- bottom right
\def\leavesI{i1/sq/cpu/112/153, i2/wd/cgn/237/37, i3/wd/cpd/506/80, i4/wd/ccy/649/178,
  i5/wd/cgn/362/178, i6/sq/cmv/291/310, i7/wd/ctw/398/425, i8/wd/col/533/508,
  i9/sq/cor/380/575, i10/wd/col/542/352, i11/sq/cmv/766/285, i12/sq/cmv/945/30,
  i13/sq/cpk/882/170, i14/sq/cor/1043/228, i15/wd/cpu/1133/96, i16/sq/cmv/1205/335,
  i17/wd/ctw/1312/468, i18/sq/cpk/1348/270, i19/wd/cgn/1527/278, i20/tl/cpt/918/378,
  i21/wd/col/945/641, i22/sq/cmv/1061/757, i23/sq/cpk/999/483, i24/sq/cpu/1151/542,
  i25/wd/cpd/1276/641, i26/sq/cmv/112/302, i27/wd/ctw/183/434, i28/tl/csl/219/608,
  i29/sq/cmv/31/625, i30/wd/col/210/765, i31/sq/cmv/362/855, i32/sq/cor/94/862,
  i33/wd/col/156/1003, i34/sq/cpk/40/1102, i35/tl/ctl/76/1277, i36/sq/cor/228/1185,
  i37/sq/cor/389/1218, i38/wd/cgn/300/1342, i39/wd/ctw/443/987, i40/sq/cor/129/1425,
  i41/sq/cor/246/1523}
\begin{scope}[shift={(1284,1492)}, x=0.04464mm, y=-0.04847mm]
  \clip (62.7,14.4) rectangle (1600,1600);
  \putpins{\leavesI}
  \draw[track] (67,0) -- (67,168) -- (0,168);
  \draw[track] (i1) -- (112,168) -- (67,168);
  \draw[track] (533,0) -- (533,20) -- (658,20) -- (658,5);
  \draw[track] (i2) -- (237,95) -- (506,95);
  \draw[track] (480,0) -- (480,95);
  \draw[track] (i3) -- (506,193) -- (649,193) -- (i4);
  \draw[track] (398,95) -- (398,193) -- (327,193) -- (327,441) -- (398,441);
  \draw[track] (i5) -- (362,193);
  \draw[track] (327,325) -- (291,325) -- (i6);
  \draw[track] (i7) -- (398,523) -- (533,523) -- (i8);
  \draw[track] (398,523) -- (362,523) -- (362,590) -- (380,590) -- (i9);
  \draw[track] (649,193) -- (649,300);
  \draw[track] (587,300) -- (802,300);
  \draw[track] (587,300) -- (587,367) -- (542,367) -- (i10);
  \draw[track] (i11) -- (766,392) -- (918,392);
  \draw[track] (802,300) -- (802,185) -- (918,185) -- (918,45) -- (945,45) -- (i12);
  \draw[track] (838,0) -- (838,45) -- (918,45);
  \draw[track] (i13) -- (882,243) -- (1079,243);
  \draw[track] (i14) -- (1043,243);
  \draw[track] (i15) -- (1133,110) -- (1079,110) -- (1079,351) -- (1231,351) -- (1231,285) -- (1348,285) -- (i18);
  \draw[track] (i16) -- (1205,483) -- (1312,483) -- (i17);
  \draw[track] (1348,293) -- (1527,293) -- (i19);
  \draw[track] (i20) -- (918,657) -- (945,657) -- (945,772) -- (1061,772) -- (i22);
  \draw[track] (i21) -- (945,657);
  \draw[track] (918,498) -- (999,498) -- (i23);
  \draw[track] (999,498) -- (999,557) -- (1151,557) -- (i24);
  \draw[track] (1151,557) -- (1151,657) -- (1276,657) -- (i25);
  \draw[track] (0,318) -- (112,318) -- (i26);
  \draw[track] (112,318) -- (112,449);
  \draw[track] (0,449) -- (183,449);
  \draw[track] (i27) -- (183,623) -- (219,623) -- (i28);
  \draw[track] (4,449) -- (4,490);
  \draw[track] (i29) -- (31,640) -- (0,640);
  \draw[track] (i30) -- (210,870) -- (362,870) -- (i31);
  \draw[track] (210,780) -- (129,780) -- (129,878) -- (0,878);
  \draw[track] (i32) -- (94,1018) -- (76,1018) -- (76,1118) -- (58,1118) -- (58,1290) -- (76,1290) -- (76,1440) -- (129,1440) -- (i40);
  \draw[track] (94,1018) -- (156,1018) -- (i33);
  \draw[track] (i34) -- (40,1118) -- (58,1118);
  \draw[track] (i35) -- (76,1290);
  \draw[track] (58,1200) -- (228,1200) -- (i36);
  \draw[track] (228,1200) -- (228,1233) -- (389,1233) -- (i37);
  \draw[track] (264,1233) -- (264,1357) -- (300,1357) -- (i38);
  \draw[track] (362,870) -- (362,1002) -- (443,1002) -- (i39);
  \draw[track] (129,1440) -- (129,1538) -- (246,1538) -- (i41);
  \draw[track] (76,1415) -- (0,1415);
  \putboxes{\leavesI}
\end{scope}
\end{tikzpicture}
\end{document}
